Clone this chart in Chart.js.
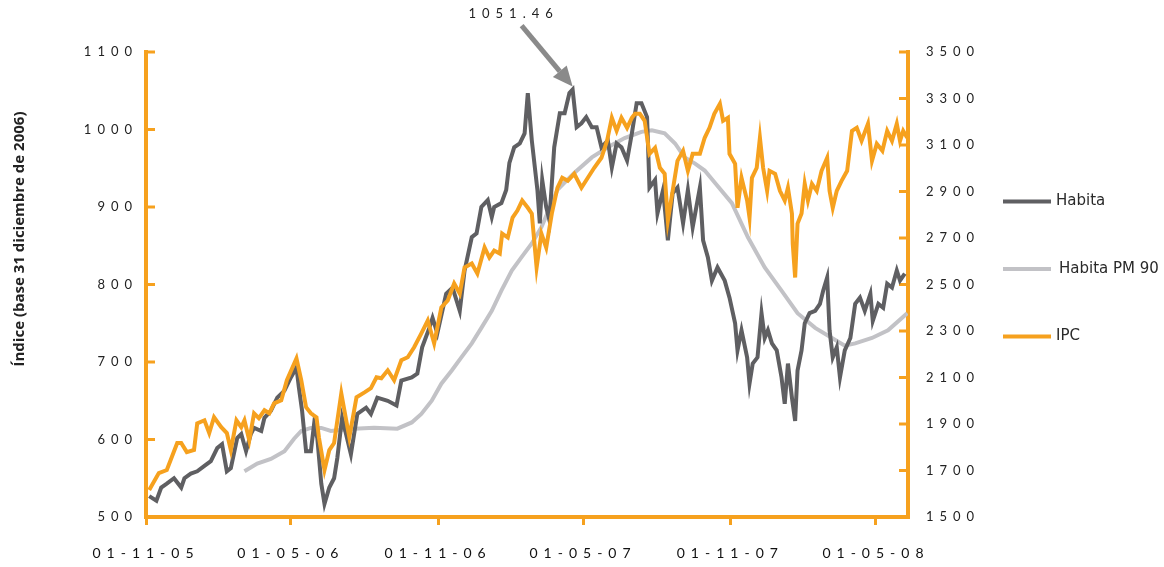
<!DOCTYPE html>
<html>
<head>
<meta charset="utf-8">
<script src="https://cdn.jsdelivr.net/npm/chart.js@4.4.1/dist/chart.umd.min.js"></script>
<style>
html,body{margin:0;padding:0;background:#ffffff;}
#wrap{width:1164px;height:567px;position:relative;}
</style>
</head>
<body>
<div id="wrap"><canvas id="c" width="1164" height="567"></canvas></div>
<script>
// x values are days counted from 01-11-05 (1 Nov 2005)
const tickDays   = [0, 181, 365, 546, 730, 912];
const tickLabels = ['01-11-05', '01-05-06', '01-11-06', '01-05-07', '01-11-07', '01-05-08'];
const leftTicks  = [500, 600, 700, 800, 900, 1000, 1100];
const rightTicks = [1500, 1700, 1900, 2100, 2300, 2500, 2700, 2900, 3100, 3300, 3500];

const habitaDays = [4,13,19,26,35,44,48,56,64,73,81,89,95,101,106,114,119,125,131,135,
  144,148,156,164,173,181,188,191,195,200,206,210,214,219,223,229,235,239,245,256,
  264,275,281,289,302,313,319,332,339,345,354,358,364,375,383,392,398,407,413,419,
  427,432,435,444,450,454,460,467,473,477,482,489,492,495,500,504,510,517,523,529,
  533,538,544,550,557,563,569,577,582,588,594,601,607,613,619,626,629,636,639,646,
  652,658,664,671,677,683,692,696,702,707,714,723,729,736,739,744,751,754,758,764,
  769,773,777,782,788,794,798,802,807,811,814,819,823,829,836,842,846,851,854,858,
  863,867,873,880,886,892,898,905,908,915,921,926,932,938,942,948];
const habitaValues = [527,521,538,543,550,538,550,556,559,566,572,589,594,559,563,602,607,585,607,615,
  611,628,637,654,663,680,693,667,637,585,585,620,602,543,517,538,550,576,628,581,
  633,641,633,654,650,644,676,680,685,719,744,757,737,788,796,766,818,861,866,900,
  909,887,900,905,922,957,977,982,995,1047,986,922,879,935,900,883,977,1021,1021,1047,
  1051.46,1003,1008,1016,1003,1003,977,986,951,982,977,960,995,1034,1034,1016,925,935,892,922,
  857,918,925,879,922,874,925,857,835,805,822,805,783,750,715,741,706,672,698,706,
  763,731,741,724,715,680,646,698,654,624,689,715,750,763,766,775,792,809,741,706,
  719,680,715,731,775,783,766,788,753,775,770,801,796,818,805,814];

const pm90Days = [123,139,156,173,185,194,206,219,231,248,260,285,314,332,344,357,369,382,394,407,
  419,432,444,457,469,482,494,514,535,557,577,598,619,632,648,661,673,686,698,711,
  732,752,773,794,814,836,857,873,886,907,927,951];
const pm90Values = [559,569,575,585,601,611,615,615,611,613,614,615,614,622,633,650,672,689,706,724,
  744,766,792,818,835,853,874,922,944,964,977,989,997,999,995,982,964,956,947,931,
  905,861,822,792,763,744,731,721,724,731,741,763];

const ipcDays = [4,16,26,39,44,51,60,64,73,79,85,94,101,106,113,119,123,129,135,141,
  148,154,160,169,176,188,194,200,206,213,216,223,229,235,244,254,263,273,281,288,
  294,302,310,319,327,335,344,352,360,369,377,385,392,398,407,414,423,429,435,442,
  445,452,458,464,470,477,482,488,494,500,507,514,520,527,535,544,552,560,569,576,
  582,588,594,601,607,611,617,623,629,636,642,648,652,658,664,671,677,683,692,698,
  704,710,717,721,727,729,736,739,744,751,754,757,763,767,771,776,779,786,792,798,
  802,807,808,811,814,819,823,827,832,838,844,851,854,858,863,869,876,882,888,894,
  902,907,913,920,926,932,938,942,946,951];
const ipcValues = [1616,1689,1702,1818,1818,1779,1788,1903,1916,1861,1929,1886,1861,1788,1916,1886,1916,1830,1946,1925,
  1959,1946,1989,2002,2088,2182,2088,1972,1946,1929,1843,1702,1788,1818,2032,1843,2015,2036,2054,2101,
  2097,2131,2088,2174,2187,2230,2290,2345,2247,2401,2431,2504,2461,2573,2590,2547,2659,2616,2646,2633,
  2719,2702,2788,2818,2861,2830,2805,2573,2719,2659,2805,2916,2959,2946,2976,2916,2959,3002,3045,3118,
  3217,3161,3217,3174,3217,3234,3234,3204,3062,3088,3002,2976,2775,2903,3032,3075,2989,3062,3062,3131,
  3174,3234,3277,3204,3217,3062,3019,2830,2959,2861,2788,2959,3002,3131,3002,2903,2989,2976,2903,2861,
  2916,2805,2676,2530,2762,2805,2933,2861,2933,2903,2989,3045,2903,2830,2903,2946,2989,3161,3174,3118,
  3191,3032,3105,3075,3161,3118,3191,3118,3161,3131];

const seriesNames = ['Habita', 'Habita PM 90', 'IPC'];
const yTitle = 'Índice (base 31 diciembre de 2006)';

const ORANGE = '#f6a11e', DARK = '#5f5f62', LIGHT = '#c2c2c6', ARROW = '#8a8a8a';
const toPts = (d, v) => d.map((x, i) => ({x: x, y: v[i]}));

const peakIndex = habitaValues.indexOf(Math.max(...habitaValues));
const peakText = habitaValues[peakIndex].toFixed(2);

const decor = {
  id: 'decor',
  beforeDraw(chart) {
    chart.ctx.letterSpacing = '6px';
  },
  beforeDatasetsDraw(chart) {
    const ctx = chart.ctx, ca = chart.chartArea;
    ctx.save();
    ctx.strokeStyle = ORANGE;
    ctx.lineWidth = 3;
    chart.scales.y.ticks.forEach(t => {
      const py = chart.scales.y.getPixelForValue(t.value);
      ctx.beginPath(); ctx.moveTo(ca.left, py); ctx.lineTo(ca.left + 9, py); ctx.stroke();
    });
    chart.scales.y1.ticks.forEach(t => {
      const py = chart.scales.y1.getPixelForValue(t.value);
      ctx.beginPath(); ctx.moveTo(ca.right, py); ctx.lineTo(ca.right - 9, py); ctx.stroke();
    });
    ctx.restore();
  },
  afterDraw(chart) {
    const ctx = chart.ctx;
    ctx.save();
    ctx.letterSpacing = '0px';
    ctx.translate(20, 239);
    ctx.rotate(-Math.PI / 2);
    ctx.fillStyle = '#222';
    ctx.font = 'bold 15px "Open Sans"';
    ctx.textAlign = 'center';
    ctx.textBaseline = 'middle';
    ctx.fillText(yTitle, 0, 0);
    ctx.restore();

    ctx.save();
    ctx.letterSpacing = '0px';
    ctx.font = '15px "DejaVu Sans"';
    ctx.textBaseline = 'middle';
    ctx.textAlign = 'left';
    chart.data.datasets.forEach((ds, i) => {
      const y = 201.5 + i * 67.5;
      ctx.strokeStyle = ds.borderColor;
      ctx.lineWidth = 4;
      ctx.beginPath(); ctx.moveTo(1003, y); ctx.lineTo(1051, y); ctx.stroke();
      ctx.fillStyle = '#2a2a2a';
      ctx.fillText(ds.label, i === 1 ? 1059 : 1056, y);
    });
    ctx.restore();

    const pt = chart.getDatasetMeta(0).data[peakIndex];
    const tipX = pt.x, tipY = pt.y - 3;
    const tailX = tipX - 51, tailY = tipY - 61;
    const ang = Math.atan2(tipY - tailY, tipX - tailX);
    const headLen = 20, headW = 9;
    const bx = tipX - headLen * Math.cos(ang), by = tipY - headLen * Math.sin(ang);
    ctx.save();
    ctx.strokeStyle = ARROW;
    ctx.fillStyle = ARROW;
    ctx.lineWidth = 5;
    ctx.beginPath(); ctx.moveTo(tailX, tailY); ctx.lineTo(bx, by); ctx.stroke();
    ctx.beginPath();
    ctx.moveTo(tipX, tipY);
    ctx.lineTo(bx + headW * Math.sin(ang), by - headW * Math.cos(ang));
    ctx.lineTo(bx - headW * Math.sin(ang), by + headW * Math.cos(ang));
    ctx.closePath(); ctx.fill();
    ctx.letterSpacing = '6px';
    ctx.font = '13px Lato';
    ctx.fillStyle = '#222';
    ctx.textAlign = 'center';
    ctx.textBaseline = 'middle';
    ctx.fillText(peakText, tipX - 59, 14);
    ctx.restore();
  }
};

const tickFont = {family: 'Lato', size: 13};

new Chart(document.getElementById('c').getContext('2d'), {
  type: 'line',
  data: {
    datasets: [
      {label: seriesNames[0], data: toPts(habitaDays, habitaValues), borderColor: DARK, backgroundColor: DARK,
       borderWidth: 4, pointRadius: 0, tension: 0, yAxisID: 'y', order: 1},
      {label: seriesNames[1], data: toPts(pm90Days, pm90Values), borderColor: LIGHT, backgroundColor: LIGHT,
       borderWidth: 4, pointRadius: 0, tension: 0, yAxisID: 'y', order: 2},
      {label: seriesNames[2], data: toPts(ipcDays, ipcValues), borderColor: ORANGE, backgroundColor: ORANGE,
       borderWidth: 4, pointRadius: 0, tension: 0, yAxisID: 'y1', order: 0}
    ]
  },
  options: {
    responsive: false,
    animation: false,
    events: [],
    layout: {padding: {top: 52, left: 0, right: 0, bottom: 0}},
    plugins: {legend: {display: false}, tooltip: {enabled: false}},
    scales: {
      x: {
        type: 'linear', min: 0, max: 952,
        afterBuildTicks: s => { s.ticks = tickDays.map(v => ({value: v})); },
        afterFit: s => { s.height = 50; },
        ticks: {
          autoSkip: false, maxRotation: 0, padding: 20, color: '#111', font: {family: 'Lato', size: 14},
          callback: v => tickLabels[tickDays.indexOf(v)]
        },
        grid: {drawOnChartArea: false, drawTicks: true, tickLength: 8, color: ORANGE, lineWidth: 3},
        border: {color: ORANGE, width: 4}
      },
      y: {
        position: 'left', min: 500, max: 1100,
        afterBuildTicks: s => { s.ticks = leftTicks.map(v => ({value: v})); },
        afterFit: s => { s.width = 146; },
        ticks: {padding: 8, color: '#222', font: tickFont, callback: v => String(v)},
        grid: {drawOnChartArea: false, drawTicks: false},
        border: {color: ORANGE, width: 4}
      },
      y1: {
        position: 'right', min: 1500, max: 3500,
        afterBuildTicks: s => { s.ticks = rightTicks.map(v => ({value: v})); },
        afterFit: s => { s.width = 256; },
        ticks: {padding: 18, color: '#222', font: tickFont, callback: v => String(v)},
        grid: {drawOnChartArea: false, drawTicks: false},
        border: {color: ORANGE, width: 4}
      }
    }
  },
  plugins: [decor]
});
</script>
</body>
</html>
